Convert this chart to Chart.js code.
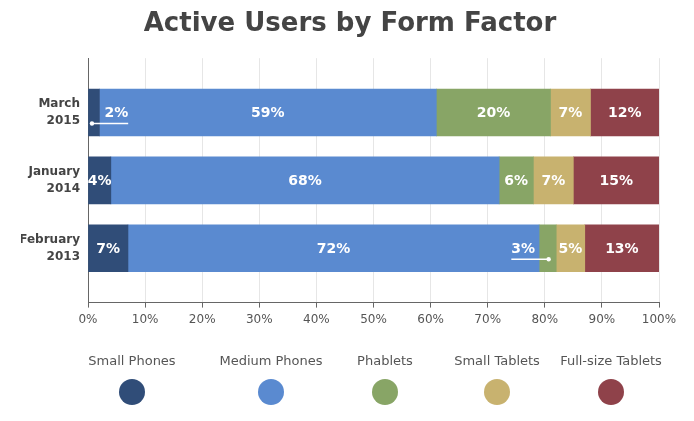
<!DOCTYPE html>
<html>
<head>
<meta charset="utf-8">
<script src="https://cdn.jsdelivr.net/npm/chart.js@4.4.1/dist/chart.umd.min.js"></script>
<style>
    html, body { margin: 0; padding: 0; background: #fff; }
    #wrap { width: 694px; height: 421px; }
</style>
</head>
<body>
<div id="wrap"><canvas id="chart"></canvas></div>
<script>
// Chart data
const categories = [['March', '2015'], ['January', '2014'], ['February', '2013']];
const seriesNames = ['Small Phones', 'Medium Phones', 'Phablets', 'Small Tablets', 'Full-size Tablets'];
const smallPhones = [2, 4, 7];
const mediumPhones = [59, 68, 72];
const phablets = [20, 6, 3];
const smallTablets = [7, 7, 5];
const fullSizeTablets = [12, 15, 13];
const xTicks = [0, 10, 20, 30, 40, 50, 60, 70, 80, 90, 100];

const colors = ['#304d78', '#5a8ad0', '#88a566', '#c8b26f', '#8f424a'];
const FONT = '"DejaVu Sans", sans-serif';

// Legend layout (item centres along the bottom)
const legendCenters = [132, 271, 385, 497, 611];

const seriesValues = [smallPhones, mediumPhones, phablets, smallTablets, fullSizeTablets];

// Draw percentage labels inside each segment, with a callout for thin ones
const segmentLabels = {
    id: 'segmentLabels',
    afterDatasetsDraw(chart) {
        const ctx = chart.ctx;
        const sets = chart.data.datasets;
        ctx.save();
        ctx.font = 'bold 14px ' + FONT;
        ctx.fillStyle = '#fff';
        ctx.strokeStyle = '#fff';
        ctx.textBaseline = 'middle';
        sets.forEach((ds, di) => {
            const meta = chart.getDatasetMeta(di);
            meta.data.forEach((bar, i) => {
                const text = ds.data[i].x + '%';
                const left = Math.min(bar.x, bar.base);
                const right = Math.max(bar.x, bar.base);
                const cx = (left + right) / 2;
                const cy = bar.y;
                if (right - left >= 20) {
                    ctx.textAlign = 'center';
                    ctx.fillText(text, cx, cy + 1);
                    return;
                }
                // thin segment: put the label in the wider neighbour
                const prev = di > 0 ? sets[di - 1].data[i].x : 0;
                const next = di < sets.length - 1 ? sets[di + 1].data[i].x : 0;
                const tw = ctx.measureText(text).width;
                const lineY = cy + 11;
                let x0, x1;
                if (next >= prev) {
                    ctx.textAlign = 'left';
                    ctx.fillText(text, right + 5, cy + 1);
                    x0 = cx - 2; x1 = right + 5 + tw;
                } else {
                    ctx.textAlign = 'right';
                    ctx.fillText(text, left - 4, cy + 1);
                    x0 = left - 4 - tw; x1 = cx + 1;
                }
                ctx.lineWidth = 1.5;
                ctx.beginPath();
                ctx.moveTo(x0, lineY);
                ctx.lineTo(x1, lineY);
                ctx.stroke();
                ctx.beginPath();
                ctx.arc(next >= prev ? x0 : x1, lineY, 2.2, 0, Math.PI * 2);
                ctx.fill();
            });
        });
        ctx.restore();
    }
};

// Legend with label above a coloured circle
const circleLegend = {
    id: 'circleLegend',
    afterDraw(chart) {
        const ctx = chart.ctx;
        ctx.save();
        ctx.font = '13px ' + FONT;
        ctx.textAlign = 'center';
        ctx.textBaseline = 'middle';
        seriesNames.forEach((name, i) => {
            const x = legendCenters[i];
            ctx.fillStyle = '#555';
            ctx.fillText(name, x, 362);
            ctx.fillStyle = colors[i];
            ctx.beginPath();
            ctx.arc(x, 392, 13, 0, Math.PI * 2);
            ctx.fill();
        });
        ctx.restore();
    }
};

const ctx = document.getElementById('chart').getContext('2d');
new Chart(ctx, {
    type: 'bar',
    data: {
        datasets: seriesNames.map((name, s) => ({
            label: name,
            data: seriesValues[s].map((v, i) => ({ x: v, y: i })),
            backgroundColor: colors[s],
            borderWidth: 0,
            barThickness: 47
        }))
    },
    options: {
        indexAxis: 'y',
        responsive: true,
        maintainAspectRatio: false,
        animation: false,
        layout: {
            padding: { left: 21, right: 15, top: 0, bottom: 89 }
        },
        plugins: {
            legend: { display: false },
            tooltip: { enabled: false },
            title: {
                display: true,
                text: 'Active Users by Form Factor',
                color: '#444',
                font: { family: FONT, size: 26, weight: 'bold' },
                padding: { top: 9, bottom: 18 }
            }
        },
        scales: {
            x: {
                type: 'linear',
                stacked: true,
                min: 0,
                max: 100,
                afterBuildTicks: scale => { scale.ticks = xTicks.map(v => ({ value: v })); },
                ticks: {
                    color: '#555',
                    font: { family: FONT, size: 12 },
                    padding: 5,
                    maxRotation: 0,
                    callback: v => v + '%'
                },
                grid: { color: '#e6e6e6', tickColor: '#666', tickLength: 5 },
                border: { color: '#666', width: 1 }
            },
            y: {
                type: 'linear',
                stacked: true,
                reverse: true,
                offset: false,
                min: -0.8,
                max: 2.8,
                afterBuildTicks: scale => { scale.ticks = categories.map((c, i) => ({ value: i })); },
                afterFit: scale => { scale.width = 67; },
                ticks: {
                    color: '#444',
                    font: { family: FONT, size: 12, weight: 'bold', lineHeight: 1.4 },
                    padding: 0,
                    callback: v => categories[v]
                },
                grid: { display: false },
                border: { color: '#666', width: 1 }
            },
            // empty spacer on the right so the title centres like the original
            yRight: {
                type: 'linear',
                position: 'right',
                display: true,
                afterFit: scale => { scale.width = 20; },
                ticks: { display: false },
                grid: { display: false },
                border: { display: false }
            }
        }
    },
    plugins: [segmentLabels, circleLegend]
});
</script>
</body>
</html>
